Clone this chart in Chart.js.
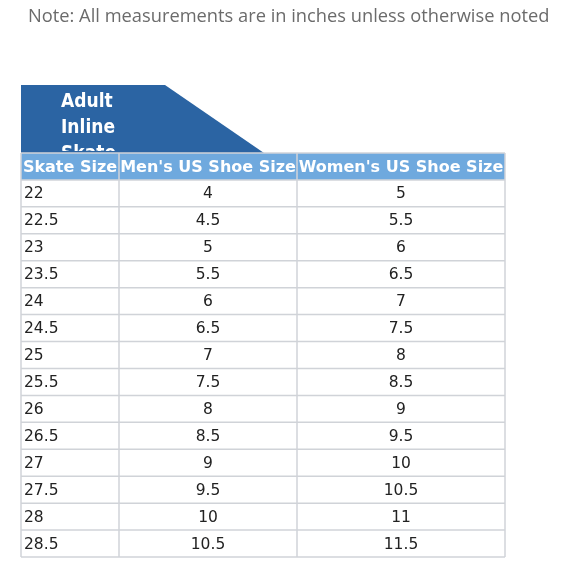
<!DOCTYPE html>
<html><head><meta charset="utf-8">
<script src="https://cdn.jsdelivr.net/npm/chart.js@4"></script>
<style>html,body{margin:0;padding:0;background:#fff}#w{width:580px;height:580px;position:relative}</style>
</head><body><div id="w"><canvas id="c"></canvas></div>
<script>
const headers = ["Skate Size", "Men's US Shoe Size", "Women's US Shoe Size"];
const skateSizes = ["22","22.5","23","23.5","24","24.5","25","25.5","26","26.5","27","27.5","28","28.5"];
const mensSizes = ["4","4.5","5","5.5","6","6.5","7","7.5","8","8.5","9","9.5","10","10.5"];
const womensSizes = ["5","5.5","6","6.5","7","7.5","8","8.5","9","9.5","10","10.5","11","11.5"];
const bannerLines = ["Adult","Inline","Skate"];
const note = "Note: All measurements are in inches unless otherwise noted";

const colEdges = [0, 98, 276, 484]; // layout (column boundaries in x-scale units)
const columns = [skateSizes, mensSizes, womensSizes];

const tablePlugin = {
  id: 'table',
  afterDraw(chart) {
    const ctx = chart.ctx, x = chart.scales.x, y = chart.scales.y;
    const nRows = skateSizes.length + 1;
    const X = v => x.getPixelForValue(v), Y = v => y.getPixelForValue(v);
    ctx.save();
    ctx.fillStyle = '#6b6b6b'; ctx.font = '18.3px "Open Sans", "DejaVu Sans"';
    ctx.textBaseline = 'middle'; ctx.textAlign = 'left';
    ctx.fillText(note, 28, 17);
    const top = Y(0);
    ctx.fillStyle = '#2b64a3';
    ctx.beginPath();
    ctx.moveTo(X(0), top - 68); ctx.lineTo(X(144), top - 68);
    ctx.lineTo(X(243), top); ctx.lineTo(X(0), top); ctx.closePath(); ctx.fill();
    ctx.save();
    ctx.beginPath(); ctx.rect(X(0), top - 68, 300, 66); ctx.clip();
    ctx.fillStyle = '#fff'; ctx.font = 'bold 19px "Liberation Sans Narrow", "DejaVu Sans Condensed"';
    bannerLines.forEach((t, i) => ctx.fillText(t, X(40), top - 51 + i * 26));
    ctx.restore();
    ctx.fillStyle = '#6fa9de';
    ctx.fillRect(X(0), Y(0), X(484) - X(0), Y(1) - Y(0));
    ctx.strokeStyle = '#d0d3d8'; ctx.lineWidth = 1.5;
    for (let r = 0; r <= nRows; r++) {
      ctx.beginPath(); ctx.moveTo(X(0), Y(r)); ctx.lineTo(X(484), Y(r)); ctx.stroke();
    }
    colEdges.forEach(c => { ctx.beginPath(); ctx.moveTo(X(c), Y(0)); ctx.lineTo(X(c), Y(nRows)); ctx.stroke(); });
    ctx.fillStyle = '#fff'; ctx.font = 'bold 16px "DejaVu Sans"'; ctx.textAlign = 'center';
    headers.forEach((h, i) => {
      const cx = (X(colEdges[i]) + X(colEdges[i + 1])) / 2;
      ctx.fillText(h, cx, (Y(0) + Y(1)) / 2 + 1, X(colEdges[i + 1]) - X(colEdges[i]) - 2);
    });
    ctx.fillStyle = '#222'; ctx.font = '15.5px "DejaVu Sans"';
    columns.forEach((col, ci) => {
      col.forEach((v, ri) => {
        const cy = (Y(ri + 1) + Y(ri + 2)) / 2 + 1;
        if (ci === 0) { ctx.textAlign = 'left'; ctx.fillText(v, X(colEdges[0]) + 3, cy); }
        else { ctx.textAlign = 'center'; ctx.fillText(v, (X(colEdges[ci]) + X(colEdges[ci + 1])) / 2, cy); }
      });
    });
    ctx.restore();
  }
};

new Chart(document.getElementById('c'), {
  type: 'scatter',
  data: { datasets: [{ data: [] }] },
  options: {
    responsive: true, maintainAspectRatio: false, animation: false,
    layout: { padding: { left: 21, right: 75, top: 153, bottom: 23 } },
    plugins: { legend: { display: false }, tooltip: { enabled: false } },
    scales: {
      x: { type: 'linear', min: 0, max: 484, display: false },
      y: { type: 'linear', min: 0, max: skateSizes.length + 1, reverse: true, display: false }
    }
  },
  plugins: [tablePlugin]
});
</script></body></html>
